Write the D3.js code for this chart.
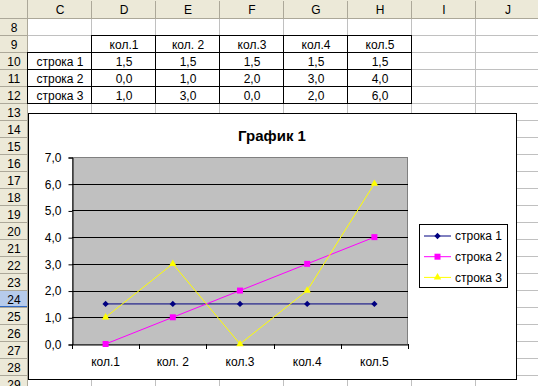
<!DOCTYPE html>
<html>
<head>
<meta charset="utf-8">
<script src="https://cdn.jsdelivr.net/npm/d3@7"></script>
<style>
  body { margin: 0; background: #fff; }
  svg { display: block; font-family: "Liberation Sans", Arial, sans-serif; }
</style>
</head>
<body>
<svg id="sheet" width="538" height="386"></svg>
<script>
// data
var categories = ["кол.1", "кол. 2", "кол.3", "кол.4", "кол.5"];
var seriesNames = ["строка 1", "строка 2", "строка 3"];
var row1 = [1.5, 1.5, 1.5, 1.5, 1.5];
var row2 = [0.0, 1.0, 2.0, 3.0, 4.0];
var row3 = [1.0, 3.0, 0.0, 2.0, 6.0];
var yTicks = [0, 1, 2, 3, 4, 5, 6, 7];
var colLetters = ["C", "D", "E", "F", "G", "H", "I", "J"];
var rowNumbers = [8, 9, 10, 11, 12, 13, 14, 15, 16, 17, 18, 19, 20, 21, 22, 23, 24, 25, 26, 27, 28, 29];

var seriesColors = ["#000080", "#ff00ff", "#ffff00"];
// diamond = square turned 45deg, like excel's marker
var seriesSymbols = [d3.symbolSquare, d3.symbolSquare, d3.symbolTriangle];
var symSizes = [20, 36, 24];
var symRotate = [45, 0, 0];
var allRows = [row1, row2, row3];

var fmt = function(d) { return d.toFixed(1).replace(".", ","); };

var svg = d3.select("#sheet");

// ---- spreadsheet grid ----
var hdrW = 28, hdrH = 19, colW = 64, rowH = 17;
var colX = function(i) { return hdrW + i * colW; };
var rowY = function(i) { return hdrH + i * rowH; };

var grid = svg.append("g");
// gridlines
colLetters.forEach(function(c, i) {
  grid.append("line").attr("x1", colX(i + 1) - 0.5).attr("x2", colX(i + 1) - 0.5)
    .attr("y1", hdrH).attr("y2", 386).attr("stroke", "#c0c0c0");
});
rowNumbers.forEach(function(r, i) {
  grid.append("line").attr("x1", hdrW).attr("x2", 538)
    .attr("y1", rowY(i + 1) - 0.5).attr("y2", rowY(i + 1) - 0.5).attr("stroke", "#c0c0c0");
});

// column headers
svg.append("rect").attr("x", 0).attr("y", 0).attr("width", 538).attr("height", hdrH).attr("fill", "#ece9d8");
svg.append("rect").attr("x", 0).attr("y", 0).attr("width", hdrW).attr("height", 386).attr("fill", "#ece9d8");
colLetters.forEach(function(c, i) {
  svg.append("line").attr("x1", colX(i + 1) - 0.5).attr("x2", colX(i + 1) - 0.5)
    .attr("y1", 1).attr("y2", hdrH).attr("stroke", "#aca899");
  svg.append("text").attr("x", colX(i) + colW / 2).attr("y", hdrH / 2 + 1)
    .attr("text-anchor", "middle").attr("dominant-baseline", "middle")
    .attr("font-size", 12).attr("fill", "#000").text(c);
});
svg.append("line").attr("x1", hdrW - 0.5).attr("x2", hdrW - 0.5).attr("y1", 0).attr("y2", 386).attr("stroke", "#aca899");
svg.append("line").attr("x1", 0).attr("x2", 538).attr("y1", hdrH - 0.5).attr("y2", hdrH - 0.5).attr("stroke", "#aca899");

// row headers
rowNumbers.forEach(function(r, i) {
  if (r === 24) {
    svg.append("rect").attr("x", 0).attr("y", rowY(i)).attr("width", hdrW - 1).attr("height", rowH - 1)
      .attr("fill", "#b6cbeb");
    svg.append("line").attr("x1", 0).attr("x2", hdrW - 1).attr("y1", rowY(i + 1) - 1.5).attr("y2", rowY(i + 1) - 1.5)
      .attr("stroke", "#316ac5");
  }
  svg.append("line").attr("x1", 0).attr("x2", hdrW).attr("y1", rowY(i + 1) - 0.5).attr("y2", rowY(i + 1) - 0.5)
    .attr("stroke", "#aca899");
  svg.append("text").attr("x", hdrW / 2).attr("y", rowY(i) + rowH / 2 + 1)
    .attr("text-anchor", "middle").attr("dominant-baseline", "middle")
    .attr("font-size", 12).attr("fill", "#000").text(r);
});

// table (rows 9..12, columns C..H)
var tbl = svg.append("g").attr("font-size", 12);
var tblRow0 = 1; // row 9 index
categories.forEach(function(c, j) {
  tbl.append("rect").attr("x", colX(j + 1) - 0.5).attr("y", rowY(tblRow0) - 0.5)
    .attr("width", colW).attr("height", rowH).attr("fill", "none").attr("stroke", "#000");
  tbl.append("text").attr("x", colX(j + 1) + colW / 2).attr("y", rowY(tblRow0) + rowH / 2 + 1)
    .attr("text-anchor", "middle").attr("dominant-baseline", "middle").text(c);
});
allRows.forEach(function(vals, k) {
  var ri = tblRow0 + 1 + k;
  tbl.append("rect").attr("x", colX(0) - 0.5).attr("y", rowY(ri) - 0.5)
    .attr("width", colW).attr("height", rowH).attr("fill", "none").attr("stroke", "#000");
  tbl.append("text").attr("x", colX(0) + colW / 2).attr("y", rowY(ri) + rowH / 2 + 1)
    .attr("text-anchor", "middle").attr("dominant-baseline", "middle").text(seriesNames[k]);
  vals.forEach(function(v, j) {
    tbl.append("rect").attr("x", colX(j + 1) - 0.5).attr("y", rowY(ri) - 0.5)
      .attr("width", colW).attr("height", rowH).attr("fill", "none").attr("stroke", "#000");
    tbl.append("text").attr("x", colX(j + 1) + colW / 2).attr("y", rowY(ri) + rowH / 2 + 1)
      .attr("text-anchor", "middle").attr("dominant-baseline", "middle").text(fmt(v));
  });
});

// ---- chart object ----
var chart = svg.append("g");
chart.append("rect").attr("x", 28.5).attr("y", 113.5).attr("width", 488).attr("height", 266)
  .attr("fill", "#fff").attr("stroke", "#000");

chart.append("text").attr("x", 272).attr("y", 141).attr("text-anchor", "middle")
  .attr("font-size", 15).attr("font-weight", "bold").text("График 1");

var x = d3.scaleBand().domain(categories).range([72, 408]);
var y = d3.scaleLinear().domain([0, 7]).range([344, 157]);

chart.append("rect").attr("x", 72.5).attr("y", 157.5).attr("width", 335).attr("height", 187)
  .attr("fill", "#c0c0c0").attr("stroke", "#808080");

// gridlines
chart.append("g").selectAll("line").data(yTicks.filter(function(d){ return d > 0 && d < 7; }))
  .enter().append("line")
  .attr("x1", 72).attr("x2", 408)
  .attr("y1", function(d) { return Math.round(y(d)) + 0.5; })
  .attr("y2", function(d) { return Math.round(y(d)) + 0.5; })
  .attr("stroke", "#000");

// y axis
var yAxis = chart.append("g").attr("transform", "translate(72.5,0.5)")
  .call(d3.axisLeft(y).tickValues(yTicks).tickSize(4).tickPadding(7).tickFormat(fmt));
yAxis.select(".domain").attr("stroke", "#000");
yAxis.selectAll(".tick line").attr("stroke", "#000");
yAxis.selectAll("text").attr("font-size", 12).attr("font-family", "Liberation Sans, Arial, sans-serif").attr("fill", "#000");

// x axis
var xAxis = chart.append("g").attr("transform", "translate(0,344.5)")
  .call(d3.axisBottom(x).tickSize(0).tickPadding(13));
xAxis.select(".domain").attr("stroke", "#000");
xAxis.selectAll("text").attr("font-size", 12).attr("font-family", "Liberation Sans, Arial, sans-serif").attr("fill", "#000");
var edges = categories.map(function(c) { return x(c); }).concat([x.range()[1]]);
chart.append("g").selectAll("line").data(edges).enter().append("line")
  .attr("x1", function(d) { return Math.round(d) + 0.5; })
  .attr("x2", function(d) { return Math.round(d) + 0.5; })
  .attr("y1", 344).attr("y2", 349).attr("stroke", "#000");

// series
var line = d3.line()
  .x(function(d, i) { return x(categories[i]) + x.bandwidth() / 2; })
  .y(function(d) { return y(d); });

allRows.forEach(function(vals, k) {
  chart.append("path").datum(vals).attr("d", line)
    .attr("fill", "none").attr("stroke", seriesColors[k]).attr("stroke-width", 1);
  chart.append("g").selectAll("path").data(vals).enter().append("path")
    .attr("transform", function(d, i) {
      return "translate(" + (x(categories[i]) + x.bandwidth() / 2) + "," + y(d) + ") rotate(" + symRotate[k] + ")";
    })
    .attr("d", d3.symbol().type(seriesSymbols[k]).size(symSizes[k]))
    .attr("fill", seriesColors[k]);
});

// legend
var leg = chart.append("g");
leg.append("rect").attr("x", 419.5).attr("y", 224.5).attr("width", 88).attr("height", 63)
  .attr("fill", "#fff").attr("stroke", "#000");
seriesNames.forEach(function(name, k) {
  var ly = 236 + k * 20.7;
  leg.append("line").attr("x1", 424).attr("x2", 451).attr("y1", ly).attr("y2", ly)
    .attr("stroke", seriesColors[k]);
  leg.append("path").attr("transform", "translate(437.5," + ly + ") rotate(" + symRotate[k] + ")")
    .attr("d", d3.symbol().type(seriesSymbols[k]).size(symSizes[k]))
    .attr("fill", seriesColors[k]);
  leg.append("text").attr("x", 455).attr("y", ly + 1).attr("dominant-baseline", "middle")
    .attr("font-size", 12).text(name);
});
</script>
</body>
</html>
